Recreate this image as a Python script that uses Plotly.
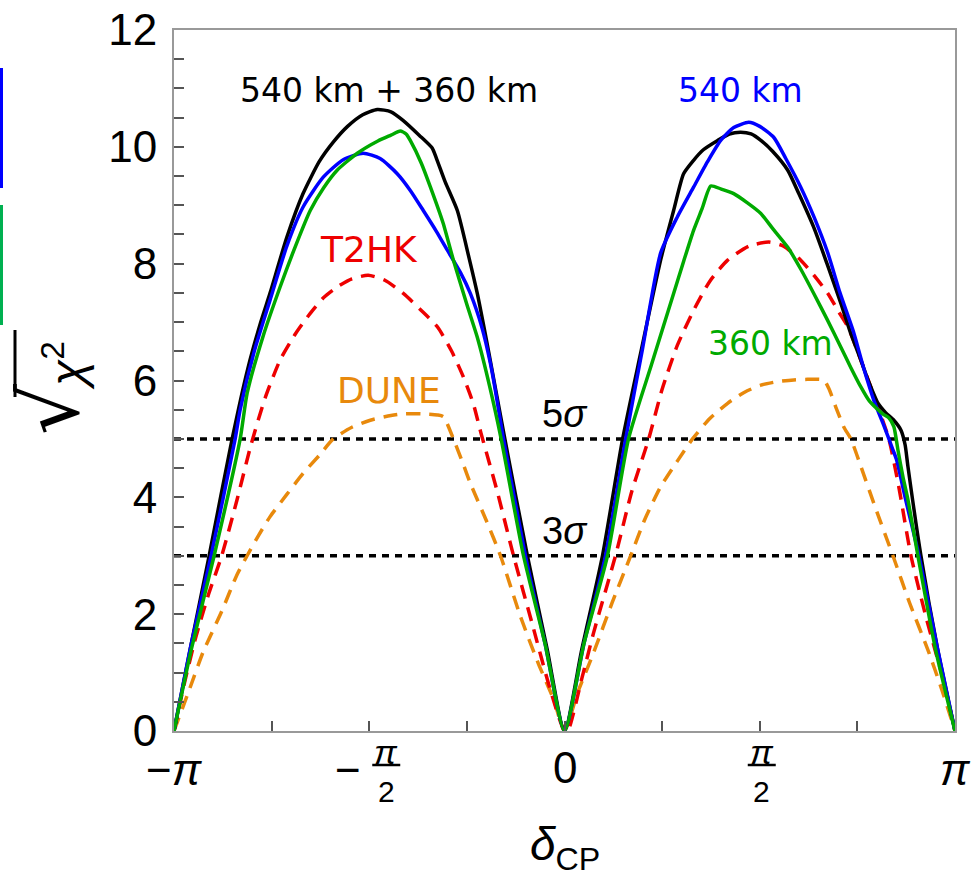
import numpy as np
import plotly.graph_objects as go

# ---------------- data (delta_CP in degrees, sqrt(chi^2)) ----------------
black_deg = [-180, -172, -163.8, -153.2, -146, -140, -135.7, -128, -120.5, -113, -106.6, -100, -93, -86.3,
             -80, -74.3, -67, -61, -59, -55, -49.4, -44, -40.2, -35, -27.5, -17.1, -8, 0,
             8, 17.5, 26.8, 35, 44.3, 50.3, 54.9, 59.5, 64, 70.6, 76, 81.2, 86, 90.5, 96, 102.9, 108,
             114.9, 121, 127.4, 132, 136.6, 140, 144.5, 148, 151.8, 155.1, 157, 158.3, 164.3, 172, 180]
black_val = [0, 1.5, 3, 5, 6.2, 7.0, 7.5, 8.45, 9.2, 9.75, 10.08, 10.35, 10.55, 10.64,
             10.6, 10.45, 10.2, 9.98, 9.8, 9.4, 8.91, 8.1, 7.49, 6.5, 5.0, 3.0, 1.4, 0,
             1.4, 3, 5, 6.45, 8.06, 8.91, 9.54, 9.77, 9.95, 10.11, 10.22, 10.25, 10.22, 10.11, 9.92, 9.6, 9.2,
             8.62, 8.0, 7.32, 6.8, 6.35, 6.0, 5.61, 5.45, 5.32, 5.15, 4.9, 4.53, 3, 1.4, 0]

blue_deg = [-180, -172, -162.9, -151.8, -149.5, -143, -135.7, -128, -120.5, -111.2, -102, -92.8, -85, -77.1,
            -71, -65.1, -59, -54, -48, -43.4, -38, -34.2, -31.5, -28.6, -18, -9, 0,
            9, 18.9, 28.2, 36, 44.3, 52, 59.5, 66, 72, 78, 84.9, 90, 96.5, 102, 108.9, 115, 121.4, 127,
            133.4, 138, 142.6, 147, 151, 153, 157, 163.4, 172, 180]
blue_val = [0, 1.5, 3, 5, 5.5, 6.5, 7.38, 8.3, 8.97, 9.48, 9.78, 9.89, 9.8, 9.54,
            9.25, 8.91, 8.55, 8.23, 7.85, 7.49, 6.9, 6.3, 5.75, 5.1, 3.0, 1.5, 0,
            1.5, 3, 5, 6.55, 8.18, 8.8, 9.31, 9.75, 10.11, 10.33, 10.42, 10.35, 10.16, 9.8, 9.31, 8.8, 8.18, 7.5,
            6.81, 6.2, 5.66, 5.25, 4.85, 4.65, 4.0, 3, 1.4, 0]

green_deg = [-180, -172, -161.5, -149.5, -146.3, -139, -131.1, -124, -117.2, -111, -104.8, -95.5, -86, -80,
             -75.7, -73, -71.1, -66, -61.8, -56, -51.2, -45, -40.2, -34.5, -29.2, -18.9, -9, 0,
             9, 19.8, 29.5, 40, 50.3, 55, 59.5, 63.5, 67.4, 72, 78, 84, 90.5, 96, 102.9, 109, 114.9, 121,
             127.4, 132, 136.6, 140.5, 144.5, 147, 149.5, 151.8, 153.7, 156, 158.3, 162.9, 171, 180]
green_val = [0, 1.4, 3, 5, 5.78, 6.75, 7.6, 8.3, 8.91, 9.3, 9.6, 9.89, 10.1, 10.2,
             10.27, 10.22, 10.11, 9.72, 9.31, 8.7, 8.06, 7.3, 6.74, 5.9, 5.0, 3.0, 1.5, 0,
             1.5, 3, 5, 6.26, 7.49, 8.05, 8.57, 8.95, 9.33, 9.28, 9.2, 9.05, 8.86, 8.6, 8.28, 7.9, 7.49, 7.05,
             6.57, 6.22, 5.89, 5.65, 5.5, 5.42, 5.36, 5.21, 4.81, 4.35, 3.96, 3.0, 1.4, 0]

t2hk_deg = [-180, -175, -170, -164, -158, -151, -144.5, -138, -131.1, -124, -117.2, -111, -104.8, -98,
            -90.5, -83, -74.3, -66, -58.6, -52, -46.6, -42, -38.5, -31, -23.5, -15, -6.5, 0,
            1.5, 8, 13.4, 23.5, 31, 38.8, 45, 52, 59.5, 67, 75.2, 85, 94.2, 101, 108.9, 115, 121.4, 126,
            130.6, 136.6, 143, 149.5, 154, 159.7, 167, 175, 180]
t2hk_val = [0, 0.85, 1.6, 2.35, 3.0, 3.95, 4.9, 5.7, 6.35, 6.8, 7.15, 7.42, 7.6, 7.74,
            7.8, 7.72, 7.49, 7.2, 6.92, 6.5, 6.06, 5.6, 5.1, 4.1, 3.0, 1.85, 0.7, 0,
            0, 0.9, 1.68, 3, 4.1, 5, 5.85, 6.6, 7.2, 7.7, 8.06, 8.3, 8.37, 8.3, 8.06, 7.8, 7.49, 7.2,
            6.92, 6.35, 5.7, 5.0, 4.2, 3.0, 1.9, 0.82, 0]

dune_deg = [-180, -173, -166.6, -158, -150.9, -146.3, -141, -135.7, -128, -120.5, -113, -106.6, -98, -89.5,
            -80, -74.3, -66, -58.6, -55.8, -51.2, -47, -43.4, -36, -29.5, -20.3, -12, -5, 0,
            6, 13.4, 22, 30.5, 37, 44.3, 52, 59, 67, 75.2, 83, 90.5, 98, 105.7, 112, 119.5, 122, 125,
            128.8, 132, 136.6, 144, 151.4, 159, 167.5, 174, 180]
dune_val = [0, 0.7, 1.35, 2.05, 2.68, 3.0, 3.35, 3.67, 4.05, 4.41, 4.72, 5.0, 5.2, 5.32,
            5.4, 5.43, 5.43, 5.41, 5.38, 5.0, 4.6, 4.24, 3.6, 3.0, 1.96, 1.15, 0.54, 0,
            0.65, 1.34, 2.2, 3.0, 3.62, 4.18, 4.62, 5.0, 5.35, 5.61, 5.8, 5.92, 5.98, 6.01, 6.02, 6.01, 5.85, 5.55,
            5.2, 5.0, 4.53, 3.75, 3.0, 2.2, 1.39, 0.7, 0]

sigma_levels = [5, 3]
sigma_labels = ["5<i>σ</i>", "3<i>σ</i>"]

x_tick_vals_pi = [-1, -0.75, -0.5, -0.25, 0, 0.25, 0.5, 0.75, 1]
y_tick_vals = [v * 0.5 for v in range(0, 25)]
y_major_labels = ["0", "2", "4", "6", "8", "10", "12"]

# ---------------- styling ----------------
W, H = 971, 879
ML, MR, MT, MB = 174, 16, 30, 148
PI = np.pi

BLACK = "#000000"
BLUE = "#0000ff"
GREEN = "#00aa00"
RED = "#ee0000"
ORANGE = "#e8890c"
LW = 3.5


def rad(lst):
    return np.radians(np.array(lst, dtype=float))


def ypx(py):
    return (H - MB - py) / (H - MT - MB)


def xpx(px):
    return (px - ML) / (W - ML - MR)


fig = go.Figure()

for lvl in sigma_levels:
    fig.add_trace(go.Scatter(x=[-PI, PI], y=[lvl, lvl], mode="lines",
                             line=dict(color=BLACK, width=3.5, dash="7px,6px"),
                             hoverinfo="skip", showlegend=False))

SPL = dict(shape="spline", smoothing=0.6)
fig.add_trace(go.Scatter(x=rad(dune_deg), y=dune_val, mode="lines", name="DUNE",
                         line=dict(color=ORANGE, width=LW, dash="14px,9px", **SPL)))
fig.add_trace(go.Scatter(x=rad(t2hk_deg), y=t2hk_val, mode="lines", name="T2HK",
                         line=dict(color=RED, width=LW, dash="14px,9px", **SPL)))
fig.add_trace(go.Scatter(x=rad(black_deg), y=black_val, mode="lines", name="540 km + 360 km",
                         line=dict(color=BLACK, width=LW, **SPL)))
fig.add_trace(go.Scatter(x=rad(blue_deg), y=blue_val, mode="lines", name="540 km",
                         line=dict(color=BLUE, width=LW, **SPL)))
fig.add_trace(go.Scatter(x=rad(green_deg), y=green_val, mode="lines", name="360 km",
                         line=dict(color=GREEN, width=LW, **SPL)))

ann = []
LBL = "DejaVu Sans"
ann.append(dict(x=np.radians(-80.8), y=10.97, text="540 km + 360 km", font=dict(family=LBL, size=33, color=BLACK)))
ann.append(dict(x=np.radians(81.2), y=10.97, text="540 km", font=dict(family=LBL, size=33, color=BLUE)))
ann.append(dict(x=np.radians(-90), y=8.25, text="T2HK", font=dict(family=LBL, size=36, color=RED)))
ann.append(dict(x=np.radians(-81), y=5.83, text="DUNE", font=dict(family=LBL, size=36, color=ORANGE)))
ann.append(dict(x=np.radians(95.1), y=6.63, text="360 km", font=dict(family=LBL, size=33, color=GREEN)))
for lvl, lab in zip(sigma_levels, sigma_labels):
    ann.append(dict(x=0, y=lvl + 0.42, text=lab, font=dict(family="Liberation Sans", size=38, color=BLACK)))

TF = "Liberation Sans"
# x tick labels
ann.append(dict(x=-PI, y=ypx(770), yref="paper", text="−<i>π</i>", font=dict(family=TF, size=44)))
ann.append(dict(x=-PI / 2, y=ypx(769), yref="paper", xshift=-21, text="−", font=dict(family=TF, size=44)))
ann.append(dict(x=-PI / 2, y=ypx(752), yref="paper", xshift=17, text="<i>π</i>", font=dict(family=TF, size=34)))
ann.append(dict(x=-PI / 2, y=ypx(791), yref="paper", xshift=17, text="2", font=dict(family=TF, size=30)))
ann.append(dict(x=0, y=ypx(767), yref="paper", text="0", font=dict(family=TF, size=44)))
ann.append(dict(x=PI / 2, y=ypx(752), yref="paper", xshift=2, text="<i>π</i>", font=dict(family=TF, size=34)))
ann.append(dict(x=PI / 2, y=ypx(791), yref="paper", xshift=2, text="2", font=dict(family=TF, size=30)))
ann.append(dict(x=PI, y=ypx(770), yref="paper", text="<i>π</i>", font=dict(family=TF, size=44)))
# x axis title
ann.append(dict(x=0, y=ypx(848), yref="paper", text="<i>δ</i><sub>CP</sub>", font=dict(family=TF, size=46)))
# y axis title
ann.append(dict(x=xpx(50), y=ypx(410), xref="paper", yref="paper", text="√", textangle=-90,
                font=dict(family="DejaVu Sans", size=80)))
ann.append(dict(x=xpx(64), y=ypx(366), xref="paper", yref="paper", text="<i>χ</i><sup>2</sup>", textangle=-90,
                font=dict(family=TF, size=48)))

for a in ann:
    a.setdefault("xref", "x")
    a.setdefault("yref", "y")
    a.setdefault("showarrow", False)
    a.setdefault("xanchor", "center")
    a.setdefault("yanchor", "middle")
    a["font"].setdefault("color", BLACK)

shapes = []
# fraction bars
for tv, x0, x1 in [(-PI / 2, 3, 31), (PI / 2, -12, 16)]:
    shapes.append(dict(type="line", xref="x", xsizemode="pixel", xanchor=tv, x0=x0, x1=x1,
                       yref="paper", y0=ypx(765), y1=ypx(765), line=dict(color=BLACK, width=2.5)))
# radical vinculum
shapes.append(dict(type="line", xref="paper", yref="paper", x0=xpx(15), x1=xpx(15),
                   y0=ypx(397), y1=ypx(330), line=dict(color=BLACK, width=3)))
# cropped legend swatches at the left edge
shapes.append(dict(type="rect", xref="paper", yref="paper", x0=xpx(-4), x1=xpx(3), y0=ypx(188), y1=ypx(68),
                   fillcolor=BLUE, line=dict(width=0)))
shapes.append(dict(type="rect", xref="paper", yref="paper", x0=xpx(-4), x1=xpx(3), y0=ypx(325), y1=ypx(205),
                   fillcolor="#00b050", line=dict(width=0)))

fig.update_layout(
    width=W, height=H,
    margin=dict(l=ML, r=MR, t=MT, b=MB, autoexpand=False),
    paper_bgcolor="white", plot_bgcolor="white",
    showlegend=False,
    annotations=ann, shapes=shapes,
    xaxis=dict(range=[-PI, PI], showgrid=False, zeroline=False, automargin=False,
               tickvals=[v * PI for v in x_tick_vals_pi], showticklabels=False,
               ticks="inside", ticklen=10, tickwidth=1.5, tickcolor="#555555",
               showline=True, linecolor="#999999", linewidth=2, mirror=True),
    yaxis=dict(range=[0, 12], showgrid=False, zeroline=False, automargin=False,
               tickvals=y_tick_vals,
               ticktext=[(y_major_labels[int(v) // 2] if (v % 2 == 0) else "") for v in y_tick_vals],
               ticks="inside", ticklen=10, tickwidth=1.5, tickcolor="#555555",
               tickfont=dict(family=TF, size=44, color=BLACK), ticklabelstandoff=6,
               showline=True, linecolor="#999999", linewidth=2, mirror=True),
)

fig.write_html("out.html")
